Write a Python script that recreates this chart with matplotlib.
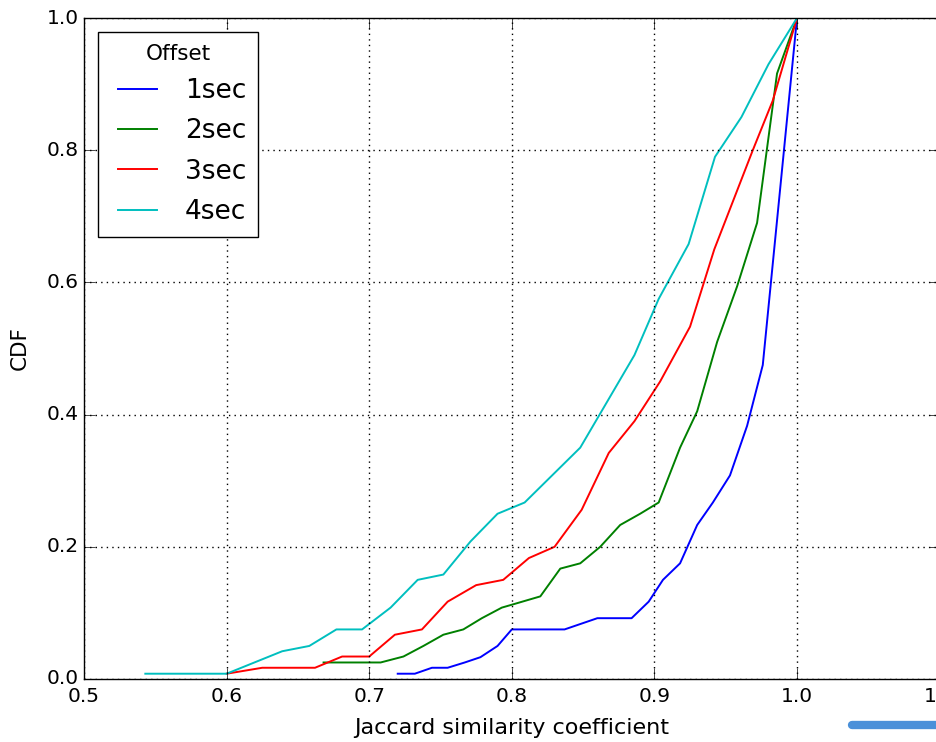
import matplotlib
matplotlib.use("Agg")
import matplotlib.pyplot as plt
from matplotlib.lines import Line2D
from matplotlib.legend_handler import HandlerLine2D

plt.style.use("classic")

# ---- data ----
x_1sec = [0.72, 0.732, 0.744, 0.755, 0.767, 0.778, 0.79, 0.80, 0.837, 0.86, 0.884,
          0.896, 0.906, 0.918, 0.93, 0.941, 0.953, 0.965, 0.976, 1.0]
y_1sec = [0.008, 0.008, 0.017, 0.017, 0.025, 0.033, 0.05, 0.075, 0.075, 0.092, 0.092,
          0.117, 0.15, 0.175, 0.233, 0.267, 0.308, 0.383, 0.475, 1.0]

x_2sec = [0.668, 0.708, 0.724, 0.738, 0.752, 0.766, 0.779, 0.793, 0.801, 0.82, 0.834,
          0.848, 0.862, 0.876, 0.89, 0.903, 0.918, 0.93, 0.944, 0.958, 0.972, 0.986, 1.0]
y_2sec = [0.025, 0.025, 0.034, 0.05, 0.067, 0.075, 0.092, 0.108, 0.113, 0.125, 0.167,
          0.175, 0.2, 0.233, 0.25, 0.267, 0.35, 0.405, 0.51, 0.594, 0.69, 0.916, 1.0]

x_3sec = [0.6, 0.625, 0.662, 0.681, 0.700, 0.718, 0.737, 0.755, 0.775, 0.794, 0.812,
          0.830, 0.849, 0.868, 0.886, 0.904, 0.925, 0.942, 0.969, 0.983, 1.0]
y_3sec = [0.008, 0.017, 0.017, 0.034, 0.034, 0.067, 0.075, 0.117, 0.142, 0.15, 0.183,
          0.2, 0.256, 0.342, 0.39, 0.45, 0.533, 0.65, 0.80, 0.875, 1.0]

x_4sec = [0.543, 0.6, 0.639, 0.658, 0.677, 0.695, 0.715, 0.734, 0.752, 0.771, 0.79,
          0.809, 0.848, 0.867, 0.886, 0.903, 0.924, 0.9425, 0.961, 0.98, 1.0]
y_4sec = [0.008, 0.008, 0.042, 0.05, 0.075, 0.075, 0.108, 0.15, 0.158, 0.208, 0.25,
          0.267, 0.35, 0.42, 0.49, 0.575, 0.658, 0.79, 0.85, 0.93, 1.0]

series = [("1sec", x_1sec, y_1sec, "b"),
          ("2sec", x_2sec, y_2sec, "g"),
          ("3sec", x_3sec, y_3sec, "r"),
          ("4sec", x_4sec, y_4sec, "c")]

x_ticks = [0.5, 0.6, 0.7, 0.8, 0.9, 1.0, 1.1]
y_ticks = [0.0, 0.2, 0.4, 0.6, 0.8, 1.0]

# ---- figure ----
fig = plt.figure(figsize=(9.37, 7.42), dpi=100, facecolor="white")
ax = fig.add_axes([84 / 937, 1 - 679 / 742, (939.6 - 84) / 937, (679 - 18) / 742])
ax.set_facecolor("white")

for label, xs, ys, c in series:
    ax.plot(xs, ys, color=c, lw=1.4, label=label)

ax.set_xlim(0.5, 1.1)
ax.set_ylim(0.0, 1.0)
ax.set_xticks(x_ticks)
ax.set_yticks(y_ticks)
ax.set_xticklabels([f"{v:.1f}" for v in x_ticks])
ax.set_yticklabels([f"{v:.1f}" for v in y_ticks])
ax.tick_params(labelsize=14.5, direction="in", length=8)
ax.tick_params(axis="x", pad=6)
ax.grid(True, color="k", linestyle=":", linewidth=1.0)
ax.set_xlabel("Jaccard similarity coefficient", fontsize=16)
ax.set_ylabel("CDF", fontsize=15.5)
ax.xaxis.set_label_coords(0.5, -0.059)
ax.yaxis.set_label_coords(-0.063, 0.5)

leg = ax.legend(loc="upper left", title="Offset", fontsize=19, title_fontsize=15.5,
                handlelength=2.08, borderpad=0.45, labelspacing=0.54,
                handletextpad=0.76, borderaxespad=0.53, frameon=True, fancybox=False,
                handler_map={Line2D: HandlerLine2D(marker_pad=0.3)})
leg.get_frame().set_edgecolor("k")
leg.get_frame().set_linewidth(1.0)

# scrollbar-like artifact at bottom right
fig.add_artist(Line2D([852 / 937, 1.0], [1 - 725 / 742, 1 - 725 / 742],
                      transform=fig.transFigure, color="#4a90d9", lw=6,
                      solid_capstyle="round"))

fig.savefig("out.png", dpi=100, facecolor="white")
